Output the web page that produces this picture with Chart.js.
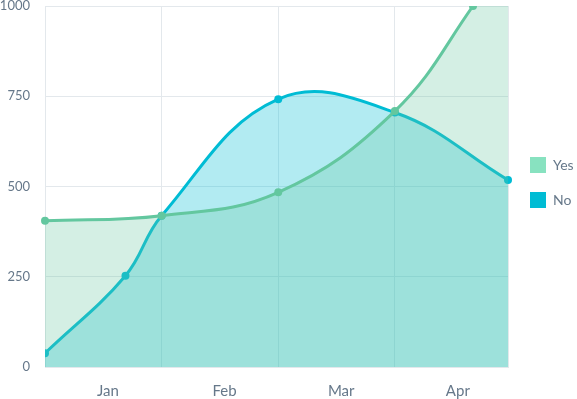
<!DOCTYPE html>
<html>
<head>
<meta charset="utf-8">
<script src="https://cdn.jsdelivr.net/npm/chart.js@4"></script>
<style>
  html, body { margin: 0; padding: 0; background: #ffffff; }
  #wrap { width: 577px; height: 399px; position: relative; }
</style>
</head>
<body>
<div id="wrap"><canvas id="chart"></canvas></div>
<script>
// ---- dati del grafico ----
const months = ['Jan', 'Feb', 'Mar', 'Apr'];
const monthTicks = [0.54, 1.54, 2.54, 3.54];   // dove stanno le etichette dei mesi
const gridTicks = [0, 1, 2, 3, 3.97];          // linee verticali della griglia
const xMax = 3.97;

const yesX = [0, 1, 2, 3, 3.67, 3.97];
const yesY = [405, 419, 484, 709, 1000, 1150];
const noX = [0, 0.69, 1, 2, 3, 3.97];
const noY = [38, 253, 419, 742, 705, 518];

const yTicks = [0, 250, 500, 750, 1000];

// ---- stile ----
const textColor = '#66788a';
const gridColor = '#e3e8ec';
const yesLine = '#63c79f';
const noLine = '#00bcd4';
const legendColors = ['#88e2c0', '#00bcd4'];

Chart.defaults.font.family = 'Lato, sans-serif';
Chart.defaults.font.size = 14;
Chart.defaults.color = textColor;

function toPoints(xs, ys) {
    return xs.map((x, i) => ({ x: x, y: ys[i] }));
}

// sposta la legenda per allinearla al riferimento
const legendShift = {
    id: 'legendShift',
    afterLayout(chart) {
        const lg = chart.legend;
        if (!lg) return;
        lg.left += 3;
        lg.right += 3;
        lg.top -= 17;
        lg.bottom -= 17;
    }
};

const ctx = document.getElementById('chart').getContext('2d');

new Chart(ctx, {
    type: 'line',
    data: {
        datasets: [{
            label: 'Yes',
            data: toPoints(yesX, yesY),
            borderColor: yesLine,
            backgroundColor: 'rgba(99, 199, 159, 0.28)',
            pointBackgroundColor: yesLine,
            pointBorderColor: yesLine,
            pointRadius: yesX.map((x, i) => i === yesX.length - 1 ? 0 : 4),
            pointBorderWidth: 0,
            borderWidth: 3,
            tension: 0.4,
            fill: 'origin',
            clip: { left: 5, top: 0, right: 0, bottom: 5 }
        }, {
            label: 'No',
            data: toPoints(noX, noY),
            borderColor: noLine,
            backgroundColor: 'rgba(0, 188, 212, 0.3)',
            pointBackgroundColor: noLine,
            pointBorderColor: noLine,
            pointRadius: 4,
            pointBorderWidth: 0,
            borderWidth: 3,
            tension: 0.4,
            fill: 'origin',
            clip: { left: 0, top: 5, right: 5, bottom: 5 }
        }]
    },
    plugins: [legendShift],
    options: {
        responsive: true,
        maintainAspectRatio: false,
        animation: false,
        layout: { padding: 0 },
        plugins: {
            legend: {
                position: 'right',
                align: 'center',
                maxWidth: 69,
                labels: {
                    boxWidth: 16,
                    boxHeight: 16,
                    padding: 19,
                    color: textColor,
                    font: { size: 14 },
                    generateLabels: function(chart) {
                        const items = Chart.defaults.plugins.legend.labels.generateLabels(chart);
                        items.forEach((it, i) => {
                            it.fillStyle = legendColors[i];
                            it.strokeStyle = legendColors[i];
                            it.lineWidth = 0;
                        });
                        return items;
                    }
                }
            },
            tooltip: { enabled: false }
        },
        scales: {
            x: {
                type: 'linear',
                min: 0,
                max: xMax,
                afterBuildTicks: function(scale) {
                    const all = gridTicks.concat(monthTicks).sort((a, b) => a - b);
                    scale.ticks = all.map(v => ({ value: v }));
                },
                afterFit: function(scale) {
                    scale.height = 32;
                },
                ticks: {
                    autoSkip: false,
                    maxRotation: 0,
                    padding: 15,
                    color: textColor,
                    font: { size: 15 },
                    callback: function(value) {
                        const idx = monthTicks.indexOf(value);
                        return idx >= 0 ? months[idx] : '';
                    }
                },
                grid: {
                    drawTicks: false,
                    color: function(c) {
                        if (c.tick && monthTicks.indexOf(c.tick.value) >= 0) return 'rgba(0,0,0,0)';
                        return gridColor;
                    }
                },
                border: { color: gridColor }
            },
            y: {
                min: 0,
                max: 1000,
                afterBuildTicks: function(scale) {
                    scale.ticks = yTicks.map(v => ({ value: v }));
                },
                afterFit: function(scale) {
                    scale.width = 45;
                    scale.paddingTop = 6;
                },
                ticks: {
                    padding: 15,
                    color: textColor,
                    font: { size: 13 },
                    callback: function(value) {
                        return String(value);
                    }
                },
                grid: {
                    drawTicks: false,
                    color: gridColor
                },
                border: { color: gridColor }
            }
        }
    }
});
</script>
</body>
</html>
